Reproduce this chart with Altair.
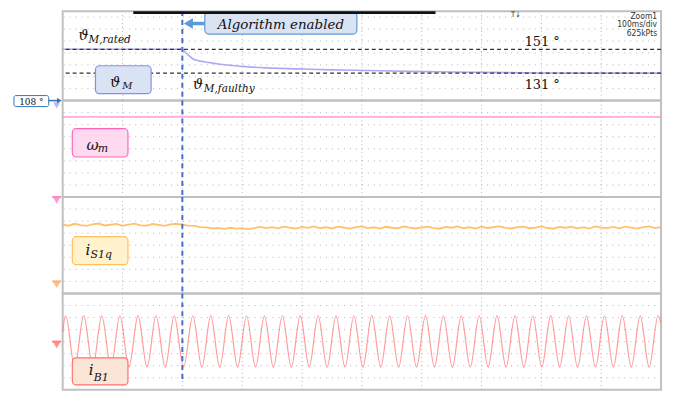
import altair as alt
import pandas as pd

# ----------------------------- data -----------------------------
t_enable = 200  # ms, algorithm enabled

# rotor angle theta_M (deg)
theta_t = [0, 200, 204, 208, 213, 218, 228, 241, 260, 284, 310, 340, 395, 450, 510, 580, 683, 800, 1000]
theta_v = [151, 151, 149.0, 147.1, 144.8, 142.9, 141.3, 140.2, 138.7, 137.4, 136.3, 135.4, 134.6,
           133.75, 133.2, 132.5, 131.8, 131.2, 131.0]
theta_rated = 151
theta_faulty = 131
theta_offset = 108

# speed omega_m (div above its ground marker)
omega_t = list(range(0, 1001, 50))
omega_v = [6.64, 6.65, 6.63, 6.64, 6.66, 6.64, 6.63, 6.65, 6.64, 6.64, 6.65,
           6.63, 6.64, 6.66, 6.64, 6.63, 6.65, 6.64, 6.64, 6.65, 6.64]

# q-current i_S1q (div above its ground marker)
iq_t = list(range(0, 1001, 10))
iq_v = [4.72, 4.62, 4.78, 4.66, 4.60, 4.74, 4.80, 4.64, 4.70, 4.77,
        4.61, 4.71, 4.79, 4.65, 4.62, 4.76, 4.69, 4.60, 4.73, 4.78,
        4.70, 4.63, 4.60, 4.50, 4.49, 4.40,
        4.43, 4.36, 4.45, 4.37, 4.42, 4.34, 4.41,
        4.52, 4.42, 4.50, 4.40, 4.55, 4.45, 4.38, 4.52, 4.44, 4.56,
        4.41, 4.50, 4.39, 4.54, 4.46, 4.38, 4.51, 4.56, 4.42, 4.49,
        4.38, 4.53, 4.45, 4.40, 4.57, 4.47, 4.39, 4.48, 4.54, 4.42,
        4.37, 4.52, 4.45, 4.56, 4.41, 4.50, 4.38, 4.54, 4.43, 4.51,
        4.57, 4.44, 4.39, 4.50, 4.54, 4.41, 4.47, 4.56, 4.43, 4.37,
        4.52, 4.45, 4.55, 4.40, 4.50, 4.38, 4.56, 4.46, 4.42, 4.52,
        4.40, 4.54, 4.46, 4.38, 4.50, 4.56, 4.42, 4.51]

# phase current i_B1: start, alternating peaks/troughs, end (div around ground)
ib_t = [0, 5.0, 20.1, 35.2, 50.3, 65.4, 80.6, 95.7, 110.8, 125.9, 141.0, 156.1, 171.3, 186.4, 202.0,
        217.6, 232.6, 247.5, 262.5, 277.4, 292.4, 307.3, 322.3, 337.2, 352.2, 367.1, 382.1, 397.0,
        412.0, 426.9, 441.9, 456.8, 471.8, 486.7, 501.7, 516.6, 531.6, 546.5, 561.5, 576.4, 591.4,
        606.3, 621.3, 636.2, 651.2, 666.1, 681.1, 696.0, 711.0, 725.9, 740.9, 755.8, 770.8, 785.7,
        800.7, 815.6, 830.6, 845.5, 860.5, 875.4, 890.4, 905.3, 920.3, 935.2, 950.2, 965.1, 980.1,
        995.0, 1000]
ib_v = [0.8, 2.15, -2.12, 2.16, -2.11, 2.14, -2.13, 2.15, -2.12, 2.16, -2.11, 2.15, -2.13, 2.14, -2.12,
        2.15, -2.12, 2.14, -2.13, 2.16, -2.11, 2.15, -2.12, 2.14, -2.13, 2.15, -2.12, 2.16,
        -2.11, 2.15, -2.13, 2.14, -2.12, 2.15, -2.12, 2.16, -2.11, 2.14, -2.13, 2.15, -2.12,
        2.16, -2.11, 2.15, -2.13, 2.14, -2.12, 2.15, -2.12, 2.16, -2.11, 2.14, -2.13, 2.15,
        -2.12, 2.16, -2.11, 2.15, -2.13, 2.14, -2.12, 2.15, -2.12, 2.16, -2.11, 2.14, -2.13,
        2.15, 1.5]

# graticule
grid_t = [100, 200, 300, 400, 500, 600, 700, 800, 900]
grid_theta = [118, 128, 138, 148, 158, 168, 178]
grid_omega = [1, 2, 3, 4, 5, 6, 7]
grid_iq = [0, 1, 2, 3, 4, 5, 6]
grid_ib = [-3, -2, -1, 0, 1, 2, 3]

# ----------------------------- layout -----------------------------
W = 602
H1 = 90
H = 97
SERIF = "DejaVu Serif"
NARROW = "Liberation Sans Narrow, DejaVu Sans Condensed, sans-serif"
GRID = "#b4b4b4"

xs = alt.Scale(domain=[0, 1000], nice=False, zero=False)


def X(f="t"):
    return alt.X(f"{f}:Q", scale=xs, axis=None)


def Y(ys, f="v"):
    return alt.Y(f"{f}:Q", scale=ys, axis=None)


def grid(ys, yvals):
    vg = alt.Chart(pd.DataFrame({"t": grid_t})).mark_rule(
        color=GRID, strokeWidth=1, strokeDash=[1, 3]).encode(x=X())
    hg = alt.Chart(pd.DataFrame({"v": yvals})).mark_rule(
        color=GRID, strokeWidth=1, strokeDash=[1, 5]).encode(y=Y(ys))
    return vg + hg


def texts(rows, ys, **kw):
    df = pd.DataFrame(rows, columns=["t", "v", "s"])
    return alt.Chart(df).mark_text(baseline="alphabetic", **kw).encode(x=X(), y=Y(ys), text="s:N")


def box(t1, t2, v1, v2, ys, fill, stroke, r=4, sw=1.2):
    df = pd.DataFrame({"t": [t1], "t2": [t2], "v": [v1], "v2": [v2]})
    return alt.Chart(df).mark_rect(fill=fill, stroke=stroke, strokeWidth=sw, cornerRadius=r).encode(
        x=X(), x2="t2:Q", y=Y(ys), y2="v2:Q")


def hline(t1, t2, v, ys, color, w):
    df = pd.DataFrame({"t": [t1], "t2": [t2], "v": [v]})
    return alt.Chart(df).mark_rule(color=color, strokeWidth=w).encode(x=X(), x2="t2:Q", y=Y(ys))


def tri(t, v, ys, shape, color, size, opacity=1):
    df = pd.DataFrame({"t": [t], "v": [v]})
    return alt.Chart(df).mark_point(shape=shape, filled=True, size=size, color=color, opacity=opacity,
                                    strokeWidth=0).encode(x=X(), y=Y(ys))


def ground(ys, v, dv, color):
    return hline(-17.5, -2.5, v, ys, color, 2) + tri(-10, v - dv, ys, "triangle-down", color, 50, 0.85)


def vdash(ys, v1=None, v2=None):
    df = pd.DataFrame({"t": [t_enable], "v": [v1], "v2": [v2]})
    m = alt.Chart(df).mark_rule(color="#4472c4", strokeWidth=2, strokeDash=[5, 4])
    if v1 is None:
        return m.encode(x=X())
    return m.encode(x=X(), y=Y(ys), y2="v2:Q")


# ---------- panel 1 : theta_M ----------
ys1 = alt.Scale(domain=[theta_offset, theta_offset + H1 / 1.2], nice=False, zero=False)
p1_trace = alt.Chart(pd.DataFrame({"t": theta_t, "v": theta_v})).mark_line(
    color="#8f8ff0", strokeWidth=1.6, opacity=0.75, interpolate="monotone").encode(x=X(), y=Y(ys1))
p1_refs = alt.Chart(pd.DataFrame({"v": [theta_rated, theta_faulty]})).mark_rule(
    color="#333333", strokeWidth=1.3, strokeDash=[4, 3]).encode(y=Y(ys1))
p1 = alt.layer(
    grid(ys1, grid_theta),
    p1_trace, p1_refs, vdash(ys1),
    box(54.8, 147.8, 137.2, 113.8, ys1, "#dae3f3", "#8a8af2"),
    texts([[79.7, 119.7, "ϑ"]], ys1, align="left", font=SERIF, fontStyle="italic", fontSize=14, color="#111"),
    texts([[99.7, 117.4, "M"]], ys1, align="left", font=SERIF, fontStyle="italic", fontSize=10, color="#111"),
    texts([[26.6, 159.2, "ϑ"], [217.6, 118.0, "ϑ"]], ys1, align="left", font=SERIF, fontStyle="italic",
          fontSize=14, color="#111"),
    texts([[43.2, 156.3, "M,rated"], [235.9, 115.5, "M,faulthy"]], ys1, align="left", font=SERIF,
          fontStyle="italic", fontSize=10.5, color="#111"),
    texts([[772, 153.8, "151 °"], [772, 118.0, "131 °"]], ys1, align="left", font=SERIF, fontSize=13,
          color="#111"),
    box(237.5, 491.7, 182.2, 163.8, ys1, "#dae3f3", "#5b9bd5"),
    texts([[364.6, 168.0, "Algorithm enabled"]], ys1, align="center", font=SERIF, fontStyle="italic",
          fontSize=13.5, color="#111"),
    hline(215, 237.5, 172.6, ys1, "#5b9bd5", 3.5),
    tri(210, 172.6, ys1, "triangle-left", "#5b9bd5", 110),
    box(118, 623, 183.0, 180.6, ys1, "#111111", "#111111", r=0, sw=0),
    texts([[993.4, 176.8, "Zoom1"], [993.4, 169.6, "100ms/div"], [993.4, 162.4, "625kPts"]], ys1,
          align="right", font=NARROW, fontSize=8.5, color="#333"),
    texts([[757.5, 178.0, "T↓"]], ys1, align="center", font=NARROW, fontSize=7.5, color="#333"),
    tri(-10, 104.0, ys1, "triangle-down", "#b0a8f0", 50, 0.85),
    box(-81.4, -23.3, 112.2, 103.0, ys1, "#ffffff", "#2e75b6", r=2, sw=1),
    texts([[-52.3, 104.6, "108 °"]], ys1, align="center", font=SERIF, fontSize=9, color="#111"),
    hline(-23.3, -6, theta_offset, ys1, "#2e75b6", 1.5),
    tri(-5.5, theta_offset, ys1, "triangle-right", "#2e75b6", 30),
).properties(width=W, height=H1)

# ---------- panel 2 : omega_m ----------
ys2 = alt.Scale(domain=[0, 8], nice=False, zero=False)
p2_trace = alt.Chart(pd.DataFrame({"t": omega_t, "v": omega_v})).mark_line(
    color="#ff8fd0", strokeWidth=2, opacity=0.7).encode(x=X(), y=Y(ys2))
p2 = alt.layer(
    grid(ys2, grid_omega),
    p2_trace, vdash(ys2),
    box(16.1, 109.1, 5.67, 3.32, ys2, "#ffd9ef", "#ff66bb"),
    texts([[39.9, 3.93, "ω"]], ys2, align="left", font=SERIF, fontStyle="italic", fontSize=15, color="#111"),
    texts([[58.6, 3.71, "m"]], ys2, align="left", font=SERIF, fontStyle="italic", fontSize=11, color="#111"),
    ground(ys2, 0, 0.3, "#ff88c8"),
).properties(width=W, height=H)

# ---------- panel 3 : i_S1q ----------
ys3 = alt.Scale(domain=[-1, 7], nice=False, zero=False)
p3_trace = alt.Chart(pd.DataFrame({"t": iq_t, "v": iq_v})).mark_line(
    color="#ffb347", strokeWidth=1.8, opacity=0.8).encode(x=X(), y=Y(ys3))
p3 = alt.layer(
    grid(ys3, grid_iq),
    p3_trace, vdash(ys3),
    box(16.1, 109.1, 3.71, 1.39, ys3, "#fff2cc", "#ffc060"),
    texts([[38.2, 2.22, "i"]], ys3, align="left", font=SERIF, fontStyle="italic", fontSize=15, color="#111"),
    texts([[46.5, 1.93, "S1q"]], ys3, align="left", font=SERIF, fontStyle="italic", fontSize=11, color="#111"),
    ground(ys3, 0, 0.3, "#ffb46e"),
).properties(width=W, height=H)

# ---------- panel 4 : i_B1 ----------
ys4 = alt.Scale(domain=[-4, 4], nice=False, zero=False)
p4_trace = alt.Chart(pd.DataFrame({"t": ib_t, "v": ib_v})).mark_line(
    color="#ff7b7b", strokeWidth=1.2, opacity=0.75, interpolate="monotone").encode(x=X(), y=Y(ys4))
p4 = alt.layer(
    grid(ys4, grid_ib),
    p4_trace, vdash(ys4, 4, -3.34),
    box(16.1, 109.1, -1.34, -3.59, ys4, "#fbe5d6", "#ff7070"),
    texts([[43.7, -2.76, "i"]], ys4, align="left", font=SERIF, fontStyle="italic", fontSize=15, color="#111"),
    texts([[52.0, -3.25, "B1"]], ys4, align="left", font=SERIF, fontStyle="italic", fontSize=11, color="#111"),
    ground(ys4, 0, 0.3, "#ff7d7d"),
).properties(width=W, height=H)

chart = alt.vconcat(p1, p2, p3, p4, spacing=0, bounds="flush").properties(
    padding={"left": 4, "top": 0, "right": 6, "bottom": 0}, background="white"
).configure_view(stroke="#c0c0c0", strokeWidth=2)

chart.save("out.html", embed_options={"renderer": "svg", "actions": False})
